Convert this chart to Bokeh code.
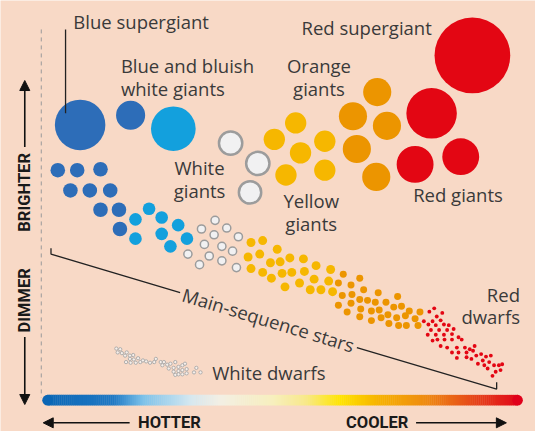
import numpy as np
from bokeh.plotting import figure
from bokeh.models import Range1d, Arrow, NormalHead
from bokeh.core.properties import value
from bokeh.embed import file_html
from bokeh.resources import INLINE

# ---------------- data (chart units: x = temperature axis, y = luminosity axis, inverted) ----------
# dark blue stars
blue_giant_x = [82, 134]
blue_giant_y = [129, 119]
blue_giant_r = [26, 15]
blue_ms_x = [59, 79, 103, 72, 92, 113, 103, 122, 123]
blue_ms_y = [176, 176, 175, 197, 197, 197, 217, 217, 237]

# bluish-white stars
lblue_giant_x = [178]
lblue_giant_y = [133]
lblue_giant_r = [23]
lblue_ms_x = [153, 139, 166, 183, 139, 166, 192, 175]
lblue_ms_y = [216, 227, 225, 233, 247, 242, 247, 255]

# white stars
white_giant_x = [237, 265, 257]
white_giant_y = [148, 169, 199]
white_giant_r = [12, 12, 11.5]
white_ms_x = [221, 207, 233, 220, 245, 210, 228, 193, 215, 239, 205, 228, 243]
white_ms_y = [228, 237, 236, 243, 245, 253, 255, 263, 265, 260, 274, 270, 277]

# yellow stars
yellow_giant_x = [304, 282, 334, 309, 294, 334]
yellow_giant_y = [127, 144, 146, 158, 181, 176]
yellow_ms_x = [258, 270, 255, 267, 285, 278, 288, 298, 258, 270, 279, 290, 300,
               312, 325, 340, 313, 323, 338, 293, 308, 319, 330, 342]
yellow_ms_y = [251, 249, 266, 263, 258, 272, 271, 267, 278, 282, 288, 283, 282,
               268, 275, 279, 281, 289, 291, 297, 293, 300, 300, 302]

# orange stars
orange_giant_x = [388, 363, 398, 367, 387]
orange_giant_y = [95, 120, 130, 154, 183]
orange_ms_x = [353, 370, 348, 361, 374, 389, 352, 362, 370, 378, 386, 397, 409,
               348, 361, 371, 382, 390, 405, 413, 421, 357, 370, 382, 392, 399,
               408, 417, 427, 432, 400, 410, 418, 430]
orange_ms_y = [284, 288, 293, 295, 300, 303, 306, 305, 310, 311, 313, 313, 307,
               316, 314, 320, 322, 321, 318, 317, 322, 323, 328, 332, 329, 326,
               329, 327, 330, 323, 335, 337, 337, 337]

# red stars
red_giant_x = [486, 444, 427, 474]
red_giant_y = [57, 117, 170, 162]
red_giant_r = [39, 26, 19, 19]
red_dwarf_x = [446.7, 455, 441.7, 449.3, 436, 445, 453.3, 440.7, 448.3, 456.7, 461.7,
               443.3, 451.7, 460, 466.7, 440, 448.3, 456.7, 465, 471.7, 450, 457.3,
               445, 465, 475, 453.3, 460, 470, 478.3, 483.3, 488.3, 465, 471.7, 480,
               486.7, 490, 470, 480, 485, 495, 500, 505, 491.7, 498.3, 496.7, 503.3,
               508.3, 513.3, 501.7, 510, 515, 506.7, 516.7]
red_dwarf_y = [319.3, 324, 322.7, 327.7, 332.7, 332.7, 331.7, 336, 336.7, 336, 336.7,
               341.7, 341.7, 341.7, 340.7, 346.7, 346.7, 346.7, 346, 349.3, 351.7, 351.7,
               352.7, 351.7, 351.7, 358.3, 360, 360, 360, 361.7, 358.3, 365, 365, 365,
               363.3, 368.3, 370.7, 370, 371.7, 366.7, 369.3, 368.3, 376.7, 378.3, 373.3, 375,
               378.3, 378.3, 381.7, 385, 383.3, 389.3, 377.3]

# white dwarfs
wdwarf_x = [119.3, 123.3, 120.7, 125, 130, 133.3, 136.7, 128.3, 133.3, 137.3, 141.7,
            129.3, 134, 139.3, 144, 146.7, 150, 154, 158.3, 160, 165, 168.3, 166.7,
            171.7, 175, 180, 173.3, 178.3, 183.3, 187.3, 190, 178.3, 183.3, 187.3,
            191.7, 183.3, 187.3, 191.7, 180, 201.7, 199.3, 206]
wdwarf_y = [361, 361.7, 365, 365.7, 365, 368.3, 367.7, 368.3, 371.7, 372.3, 371,
            375, 375.7, 375.7, 375, 373.3, 374.3, 375.7, 375, 371.7, 375, 375, 378.3,
            377.7, 376.7, 375, 381.7, 381, 380, 378.3, 376.7, 385, 384.3, 383.3,
            382.3, 387.7, 387.7, 386.7, 388.3, 381, 385.7, 385.7]

# labels
label_text = ["Blue supergiant", "Blue and bluish", "white giants", "Red supergiant",
              "White dwarfs", "Red giants"]
label_x = [75, 124, 124, 310, 218, 425]
label_y = [22, 67, 91, 28, 386, 201]
clabel_text = ["White", "giants", "Orange", "giants", "Yellow", "giants"]
clabel_x = [205, 205, 328, 328, 320, 320]
clabel_y = [173, 197, 67, 91, 207, 231]
rlabel_text = ["Red", "dwarfs"]
rlabel_x = [535, 535]
rlabel_y = [305, 328]

# colour scale of the temperature bar
grad_stops = [0, 0.147, 0.21, 0.31, 0.37, 0.48, 0.55, 0.62, 0.695, 0.8, 0.907, 1.0]
grad_colors = ["#0a66b5", "#1e78c4", "#7cc2ea", "#d6e8f0", "#f3efe4", "#f7efbe",
               "#f8e987", "#ffe500", "#f7b500", "#ee8a12", "#e5401a", "#e0001a"]

# ---------------- figure ----------------
BG = "#f8d9c6"
TXT = "#3a3a3a"
p = figure(width=535, height=431, x_range=Range1d(0, 551), y_range=Range1d(447, 0),
           x_axis_type=None, y_axis_type=None, toolbar_location=None,
           output_backend="svg", min_border=0, background_fill_color=BG,
           border_fill_color=BG, outline_line_color=None)

DBLUE = "#2d6db8"
LBLUE = "#13a0dd"
YEL = "#f6b700"
ORA = "#ec9500"
RED = "#e30613"

# dashed axis
p.line(x=[42, 42], y=[30, 412], line_dash="4 4", line_color="#9a9a9a", line_width=1)

# stars
p.circle(x=blue_giant_x, y=blue_giant_y, radius=blue_giant_r, fill_color=DBLUE, line_color=None)
p.circle(x=blue_ms_x, y=blue_ms_y, radius=7.5, fill_color=DBLUE, line_color=None)
p.circle(x=lblue_giant_x, y=lblue_giant_y, radius=lblue_giant_r, fill_color=LBLUE, line_color=None)
p.circle(x=lblue_ms_x, y=lblue_ms_y, radius=6.5, fill_color=LBLUE, line_color=None)
p.circle(x=white_giant_x, y=white_giant_y, radius=white_giant_r, fill_color="#f1f1f2",
         line_color="#9c9c9c", line_width=2.5)
p.circle(x=white_ms_x, y=white_ms_y, radius=4.2, fill_color="#f1f1f2",
         line_color="#9c9c9c", line_width=1.5)
p.circle(x=yellow_giant_x, y=yellow_giant_y, radius=11, fill_color=YEL, line_color=None)
p.circle(x=yellow_ms_x, y=yellow_ms_y, radius=4.6, fill_color=YEL, line_color=None)
p.circle(x=orange_giant_x, y=orange_giant_y, radius=14.5, fill_color=ORA, line_color=None)
p.circle(x=orange_ms_x, y=orange_ms_y, radius=3.6, fill_color=ORA, line_color=None)
p.circle(x=red_giant_x, y=red_giant_y, radius=red_giant_r, fill_color=RED, line_color=None)
p.circle(x=red_dwarf_x, y=red_dwarf_y, radius=2.0, fill_color=RED, line_color=None)
p.circle(x=wdwarf_x, y=wdwarf_y, radius=1.7, fill_color="#f6efea",
         line_color="#a8a8a8", line_width=0.9)

# pointer + brackets
p.line(x=[67, 67], y=[30, 117], line_color="#222222", line_width=1.3)
p.line(x=[52, 52, 185], y=[257, 263, 303], line_color="#222222", line_width=1.3)
p.line(x=[367, 511, 511], y=[360, 403, 396], line_color="#222222", line_width=1.3)

# labels
FS = "18.5px"
p.text(x=label_x, y=label_y, text=label_text, text_font=value("Open Sans"),
       text_font_size=FS, text_color=TXT, text_align="left", text_baseline="middle")
p.text(x=clabel_x, y=clabel_y, text=clabel_text, text_font=value("Open Sans"),
       text_font_size=FS, text_color=TXT, text_align="center", text_baseline="middle")
p.text(x=rlabel_x, y=rlabel_y, text=rlabel_text, text_font=value("Open Sans"),
       text_font_size=FS, text_color=TXT, text_align="right", text_baseline="middle")
p.text(x=[276], y=[331], text=["Main-sequence stars"], angle=-np.arctan(0.303),
       text_font=value("Open Sans"), text_font_size=FS, text_color=TXT,
       text_align="center", text_baseline="middle")

# gradient bar
bx0, bx1, by0, by1 = 43, 538, 409, 420
cap = (by1 - by0) / 2
n = 240
edges = np.linspace(bx0 + cap, bx1 - cap, n + 1)
mids = (edges[:-1] + edges[1:]) / 2
fr = (mids - bx0) / (bx1 - bx0)
def hex2rgb(h):
    return np.array([int(h[i:i + 2], 16) for i in (1, 3, 5)])
rgbs = np.array([hex2rgb(c) for c in grad_colors])
cols = []
for f in fr:
    rgb = [np.interp(f, grad_stops, rgbs[:, k]) for k in range(3)]
    cols.append("#%02x%02x%02x" % tuple(int(round(v)) for v in rgb))
p.quad(left=edges[:-1], right=edges[1:] + 0.4, top=by0, bottom=by1, fill_color=cols,
       line_color=None)
p.ellipse(x=[bx0 + cap, bx1 - cap], y=[(by0 + by1) / 2] * 2, width=2 * cap, height=2 * cap,
          fill_color=[grad_colors[0], grad_colors[-1]], line_color=None)

# axis arrows & labels
def head():
    return NormalHead(size=10, fill_color="#111111", line_color="#111111", line_width=1)
p.add_layout(Arrow(end=head(), x_start=25, y_start=152, x_end=25, y_end=83,
                   line_width=1.6, line_color="#111111"))
p.add_layout(Arrow(end=head(), x_start=25, y_start=349, x_end=25, y_end=419,
                   line_width=1.6, line_color="#111111"))
p.add_layout(Arrow(end=head(), x_start=133, y_start=438, x_end=44, y_end=438,
                   line_width=1.6, line_color="#111111"))
p.add_layout(Arrow(end=head(), x_start=428, y_start=438, x_end=521, y_end=438,
                   line_width=1.6, line_color="#111111"))

p.text(x=[25, 25], y=[199, 311], text=["BRIGHTER", "DIMMER"], angle=np.pi / 2,
       text_font=value("Roboto"), text_font_style="bold", text_font_size="16.5px",
       text_color="#1a1a1a", text_align="center", text_baseline="middle")
p.text(x=[174, 388], y=[438, 438], text=["HOTTER", "COOLER"],
       text_font=value("Roboto"), text_font_style="bold", text_font_size="16.5px",
       text_color="#1a1a1a", text_align="center", text_baseline="middle")

open("out.html", "w").write(file_html(p, INLINE))
